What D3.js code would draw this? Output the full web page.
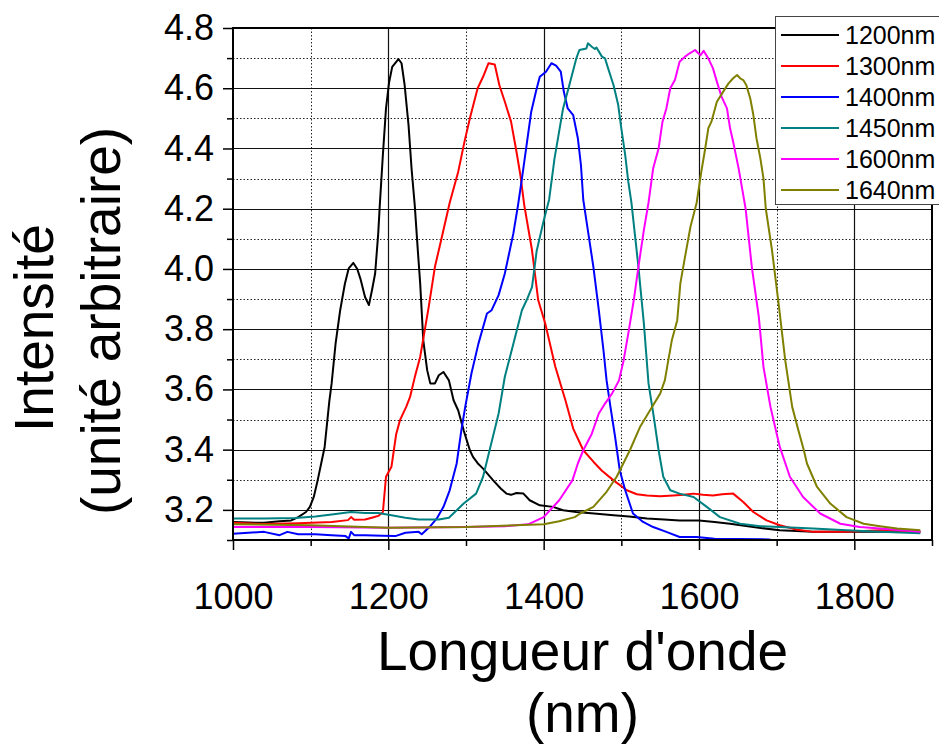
<!DOCTYPE html>
<html>
<head>
<meta charset="utf-8">
<script src="https://cdn.jsdelivr.net/npm/d3@7"></script>
<style>
  body { margin: 0; background: #fff; }
  svg { display: block; font-family: "Liberation Sans", Arial, sans-serif; }
</style>
</head>
<body>
<div id="chart"></div>
<script>
// wavelength (nm), intensity (a.u.)
const s1200 = [[1000,3.160],[1020,3.158],[1040,3.157],[1060,3.162],[1075,3.165],[1084,3.176],[1094,3.193],[1099,3.21],[1104,3.243],[1109,3.298],[1114,3.36],[1118,3.409],[1124,3.56],[1127,3.62],[1132,3.75],[1138,3.863],[1144,3.95],[1149,4.002],[1155,4.02],[1160,4.0],[1164,3.968],[1170,3.907],[1175,3.88],[1179,3.93],[1183,3.985],[1187,4.118],[1189,4.212],[1193,4.38],[1197,4.533],[1201,4.62],[1205,4.671],[1213,4.697],[1217,4.683],[1221,4.61],[1226,4.478],[1230,4.33],[1234,4.212],[1238,4.06],[1241,3.952],[1245,3.763],[1250,3.664],[1254,3.62],[1260,3.62],[1265,3.647],[1271,3.658],[1278,3.63],[1284,3.564],[1290,3.53],[1297,3.464],[1305,3.398],[1309,3.376],[1315,3.355],[1322,3.337],[1335,3.298],[1345,3.27],[1352,3.254],[1358,3.25],[1365,3.256],[1374,3.254],[1382,3.232],[1395,3.215],[1412,3.21],[1425,3.199],[1442,3.193],[1465,3.188],[1490,3.182],[1510,3.178],[1533,3.171],[1555,3.168],[1575,3.165],[1600,3.165],[1620,3.16],[1640,3.154],[1670,3.143],[1704,3.132],[1747,3.127],[1790,3.127],[1833,3.127],[1885,3.127]];

const s1300 = [[1000,3.157],[1040,3.153],[1084,3.156],[1127,3.16],[1148,3.166],[1152,3.176],[1156,3.167],[1170,3.168],[1180,3.175],[1187,3.18],[1193,3.193],[1197,3.31],[1204,3.343],[1210,3.45],[1215,3.498],[1223,3.542],[1228,3.575],[1234,3.64],[1241,3.708],[1252,3.874],[1260,4.007],[1269,4.107],[1279,4.22],[1290,4.323],[1298,4.422],[1305,4.5],[1315,4.6],[1322,4.638],[1329,4.683],[1337,4.679],[1343,4.61],[1350,4.555],[1358,4.489],[1365,4.389],[1370,4.312],[1375,4.212],[1385,4.062],[1393,3.896],[1402,3.819],[1415,3.675],[1428,3.564],[1438,3.47],[1451,3.398],[1464,3.36],[1475,3.33],[1490,3.298],[1507,3.265],[1520,3.252],[1533,3.248],[1550,3.245],[1567,3.248],[1580,3.25],[1593,3.254],[1605,3.25],[1618,3.248],[1630,3.252],[1644,3.254],[1657,3.226],[1670,3.193],[1687,3.165],[1704,3.149],[1725,3.135],[1747,3.127],[1790,3.127],[1833,3.132],[1885,3.127]];

const s1400 = [[1000,3.121],[1040,3.127],[1060,3.116],[1070,3.127],[1084,3.119],[1106,3.119],[1127,3.116],[1145,3.113],[1149,3.105],[1152,3.127],[1156,3.116],[1170,3.116],[1192,3.114],[1209,3.113],[1222,3.124],[1239,3.127],[1243,3.119],[1253,3.143],[1262,3.17],[1271,3.21],[1279,3.265],[1288,3.354],[1294,3.464],[1299,3.542],[1307,3.653],[1316,3.752],[1327,3.852],[1333,3.863],[1342,3.913],[1350,3.985],[1361,4.118],[1367,4.212],[1372,4.3],[1378,4.411],[1384,4.522],[1390,4.588],[1395,4.638],[1403,4.655],[1410,4.683],[1416,4.675],[1422,4.655],[1426,4.588],[1431,4.533],[1438,4.511],[1444,4.434],[1448,4.345],[1451,4.229],[1458,4.11],[1464,4.007],[1471,3.863],[1477,3.73],[1481,3.63],[1486,3.542],[1492,3.442],[1498,3.331],[1505,3.265],[1515,3.188],[1528,3.16],[1541,3.143],[1558,3.127],[1575,3.11],[1597,3.11],[1620,3.104],[1650,3.103],[1690,3.102],[1710,3.09],[1800,3.085],[1885,3.09]];

const s1450 = [[1000,3.171],[1040,3.171],[1080,3.173],[1106,3.178],[1127,3.185],[1152,3.193],[1170,3.19],[1187,3.19],[1204,3.182],[1222,3.174],[1239,3.168],[1265,3.168],[1278,3.174],[1297,3.221],[1313,3.254],[1322,3.31],[1331,3.405],[1342,3.52],[1350,3.642],[1361,3.752],[1372,3.863],[1378,3.896],[1385,3.94],[1391,4.06],[1400,4.16],[1407,4.23],[1414,4.367],[1425,4.533],[1433,4.61],[1442,4.699],[1446,4.727],[1455,4.732],[1457,4.749],[1462,4.738],[1466,4.73],[1468,4.735],[1475,4.705],[1479,4.699],[1483,4.666],[1490,4.61],[1496,4.544],[1500,4.467],[1505,4.378],[1509,4.289],[1513,4.22],[1522,4.007],[1529,3.819],[1535,3.62],[1542,3.505],[1548,3.398],[1554,3.31],[1563,3.265],[1575,3.254],[1593,3.243],[1610,3.21],[1627,3.176],[1653,3.154],[1679,3.146],[1704,3.143],[1747,3.138],[1790,3.132],[1833,3.127],[1885,3.122]];

const s1600 = [[1000,3.143],[1100,3.143],[1200,3.141],[1300,3.143],[1350,3.146],[1380,3.152],[1400,3.176],[1420,3.232],[1437,3.298],[1444,3.354],[1451,3.398],[1462,3.453],[1471,3.52],[1479,3.553],[1488,3.586],[1497,3.63],[1503,3.697],[1509,3.786],[1516,3.896],[1522,4.007],[1529,4.129],[1535,4.22],[1541,4.334],[1548,4.4],[1553,4.489],[1558,4.533],[1563,4.6],[1569,4.627],[1575,4.688],[1582,4.705],[1588,4.716],[1595,4.727],[1599,4.716],[1602,4.71],[1606,4.724],[1612,4.699],[1618,4.666],[1623,4.622],[1629,4.572],[1636,4.533],[1640,4.467],[1644,4.422],[1651,4.334],[1657,4.245],[1660,4.2],[1668,4.007],[1677,3.841],[1683,3.675],[1692,3.542],[1704,3.409],[1717,3.31],[1734,3.243],[1756,3.188],[1782,3.154],[1807,3.143],[1833,3.138],[1885,3.127]];

const s1640 = [[1000,3.152],[1100,3.149],[1200,3.141],[1300,3.143],[1400,3.152],[1420,3.162],[1440,3.176],[1447,3.188],[1464,3.21],[1481,3.26],[1494,3.31],[1511,3.398],[1524,3.475],[1537,3.531],[1550,3.586],[1556,3.63],[1559,3.675],[1565,3.763],[1572,3.83],[1576,3.952],[1582,4.04],[1589,4.14],[1597,4.22],[1603,4.323],[1608,4.4],[1612,4.467],[1616,4.489],[1623,4.555],[1631,4.588],[1638,4.616],[1644,4.633],[1649,4.644],[1653,4.633],[1657,4.627],[1661,4.61],[1666,4.566],[1670,4.511],[1674,4.434],[1679,4.367],[1683,4.301],[1686,4.2],[1694,4.062],[1703,3.874],[1711,3.697],[1720,3.542],[1728,3.464],[1735,3.398],[1739,3.354],[1752,3.276],[1769,3.221],[1790,3.176],[1812,3.154],[1833,3.146],[1855,3.138],[1885,3.132]];

const seriesNames = ["1200nm", "1300nm", "1400nm", "1450nm", "1600nm", "1640nm"];
const seriesData = [s1200, s1300, s1400, s1450, s1600, s1640];
const colors = ["#000000", "#ff0000", "#0000ff", "#008080", "#ff00ff", "#808000"];

const xMajor = [1000, 1200, 1400, 1600, 1800];
const xMinor = [1100, 1300, 1500, 1700, 1900];
const yMajor = [3.2, 3.4, 3.6, 3.8, 4.0, 4.2, 4.4, 4.6, 4.8];
const yMinor = [3.1, 3.3, 3.5, 3.7, 3.9, 4.1, 4.3, 4.5, 4.7];

const W = 939, H = 744;
const plot = { left: 233, right: 932, top: 28, bottom: 540 };

const svg = d3.select("#chart")
  .append("svg")
  .attr("width", W)
  .attr("height", H);

const x = d3.scaleLinear().domain([1000, 1900]).range([plot.left, plot.right]);
const y = d3.scaleLinear().domain([3.1, 4.8]).range([plot.bottom, plot.top]);

// grid
const grid = svg.append("g").attr("class", "grid");
grid.selectAll(".vmaj")
  .data(xMajor.slice(1))
  .enter()
  .append("line")
  .attr("x1", d => Math.round(x(d)) + 0.5)
  .attr("x2", d => Math.round(x(d)) + 0.5)
  .attr("y1", plot.top)
  .attr("y2", plot.bottom)
  .attr("stroke", "#111")
  .attr("stroke-width", 1.2);
grid.selectAll(".vmin")
  .data(xMinor.slice(0, -1))
  .enter()
  .append("line")
  .attr("x1", d => Math.round(x(d)) + 0.5)
  .attr("x2", d => Math.round(x(d)) + 0.5)
  .attr("y1", plot.top)
  .attr("y2", plot.bottom)
  .attr("stroke", "#222")
  .attr("stroke-dasharray", "1.5,2")
  .attr("stroke-width", 1);
grid.selectAll(".hmaj")
  .data(yMajor.slice(0, -1))
  .enter()
  .append("line")
  .attr("x1", plot.left)
  .attr("x2", plot.right)
  .attr("y1", d => Math.round(y(d)) + 0.5)
  .attr("y2", d => Math.round(y(d)) + 0.5)
  .attr("stroke", "#111")
  .attr("stroke-width", 1.2);
grid.selectAll(".hmin")
  .data(yMinor.slice(1))
  .enter()
  .append("line")
  .attr("x1", plot.left)
  .attr("x2", plot.right)
  .attr("y1", d => Math.round(y(d)) + 0.5)
  .attr("y2", d => Math.round(y(d)) + 0.5)
  .attr("stroke", "#222")
  .attr("stroke-dasharray", "1.5,2")
  .attr("stroke-width", 1);

// curves
svg.append("clipPath")
  .attr("id", "clip")
  .append("rect")
  .attr("x", plot.left)
  .attr("y", plot.top)
  .attr("width", plot.right - plot.left)
  .attr("height", plot.bottom - plot.top);

const line = d3.line()
  .x(d => x(d[0]))
  .y(d => y(d[1]));

svg.append("g")
  .attr("clip-path", "url(#clip)")
  .selectAll("path")
  .data(seriesData)
  .enter()
  .append("path")
  .attr("d", line)
  .attr("fill", "none")
  .attr("stroke", (d, i) => colors[i])
  .attr("stroke-width", 2)
  .attr("stroke-linejoin", "round");

// axes
const fontTick = 36;
const xAxis = svg.append("g")
  .attr("transform", "translate(0," + plot.bottom + ")")
  .call(d3.axisBottom(x).tickValues(xMajor).tickSize(10).tickPadding(33).tickFormat(d3.format("d")));
svg.append("g")
  .attr("transform", "translate(0," + plot.bottom + ")")
  .call(d3.axisBottom(x).tickValues(xMinor).tickSize(6).tickFormat(""));
const yAxis = svg.append("g")
  .attr("transform", "translate(" + plot.left + ",0)")
  .call(d3.axisLeft(y).tickValues(yMajor).tickSize(10).tickPadding(9).tickFormat(d3.format(".1f")));
svg.append("g")
  .attr("transform", "translate(" + plot.left + ",0)")
  .call(d3.axisLeft(y).tickValues(yMinor).tickSize(6).tickFormat(""));

svg.selectAll(".domain").remove();
svg.selectAll(".tick line").attr("stroke", "#000").attr("stroke-width", 1.5);
svg.selectAll(".tick text")
  .attr("fill", "#000")
  .style("font-size", fontTick + "px")
  .style("font-family", "'Liberation Sans', Arial, sans-serif");

// frame
svg.append("rect")
  .attr("x", plot.left)
  .attr("y", plot.top)
  .attr("width", plot.right - plot.left)
  .attr("height", plot.bottom - plot.top)
  .attr("fill", "none")
  .attr("stroke", "#000")
  .attr("stroke-width", 2);

// legend
const legend = svg.append("g").attr("class", "legend");
legend.append("rect")
  .attr("x", 775.5)
  .attr("y", 16.5)
  .attr("width", 170)
  .attr("height", 188)
  .attr("fill", "#fff")
  .attr("stroke", "#444")
  .attr("stroke-width", 1);

const item = legend.selectAll(".item")
  .data(seriesNames)
  .enter()
  .append("g")
  .attr("transform", (d, i) => "translate(0," + (35 + i * 31) + ")");
item.append("line")
  .attr("x1", 781)
  .attr("x2", 839)
  .attr("stroke", (d, i) => colors[i])
  .attr("stroke-width", 2);
item.append("text")
  .attr("x", 845)
  .attr("y", 9)
  .style("font-size", "25px")
  .text(d => d);

// axis titles
svg.append("text")
  .attr("x", (plot.left + plot.right) / 2)
  .attr("y", 670)
  .attr("text-anchor", "middle")
  .style("font-size", "55px")
  .text("Longueur d'onde");
svg.append("text")
  .attr("x", (plot.left + plot.right) / 2)
  .attr("y", 732)
  .attr("text-anchor", "middle")
  .style("font-size", "55px")
  .text("(nm)");

svg.append("text")
  .attr("transform", "translate(53,328) rotate(-90)")
  .attr("text-anchor", "middle")
  .style("font-size", "55px")
  .text("Intensité");
svg.append("text")
  .attr("transform", "translate(120,321) rotate(-90)")
  .attr("text-anchor", "middle")
  .style("font-size", "55px")
  .text("(unité arbitraire)");
</script>
</body>
</html>
